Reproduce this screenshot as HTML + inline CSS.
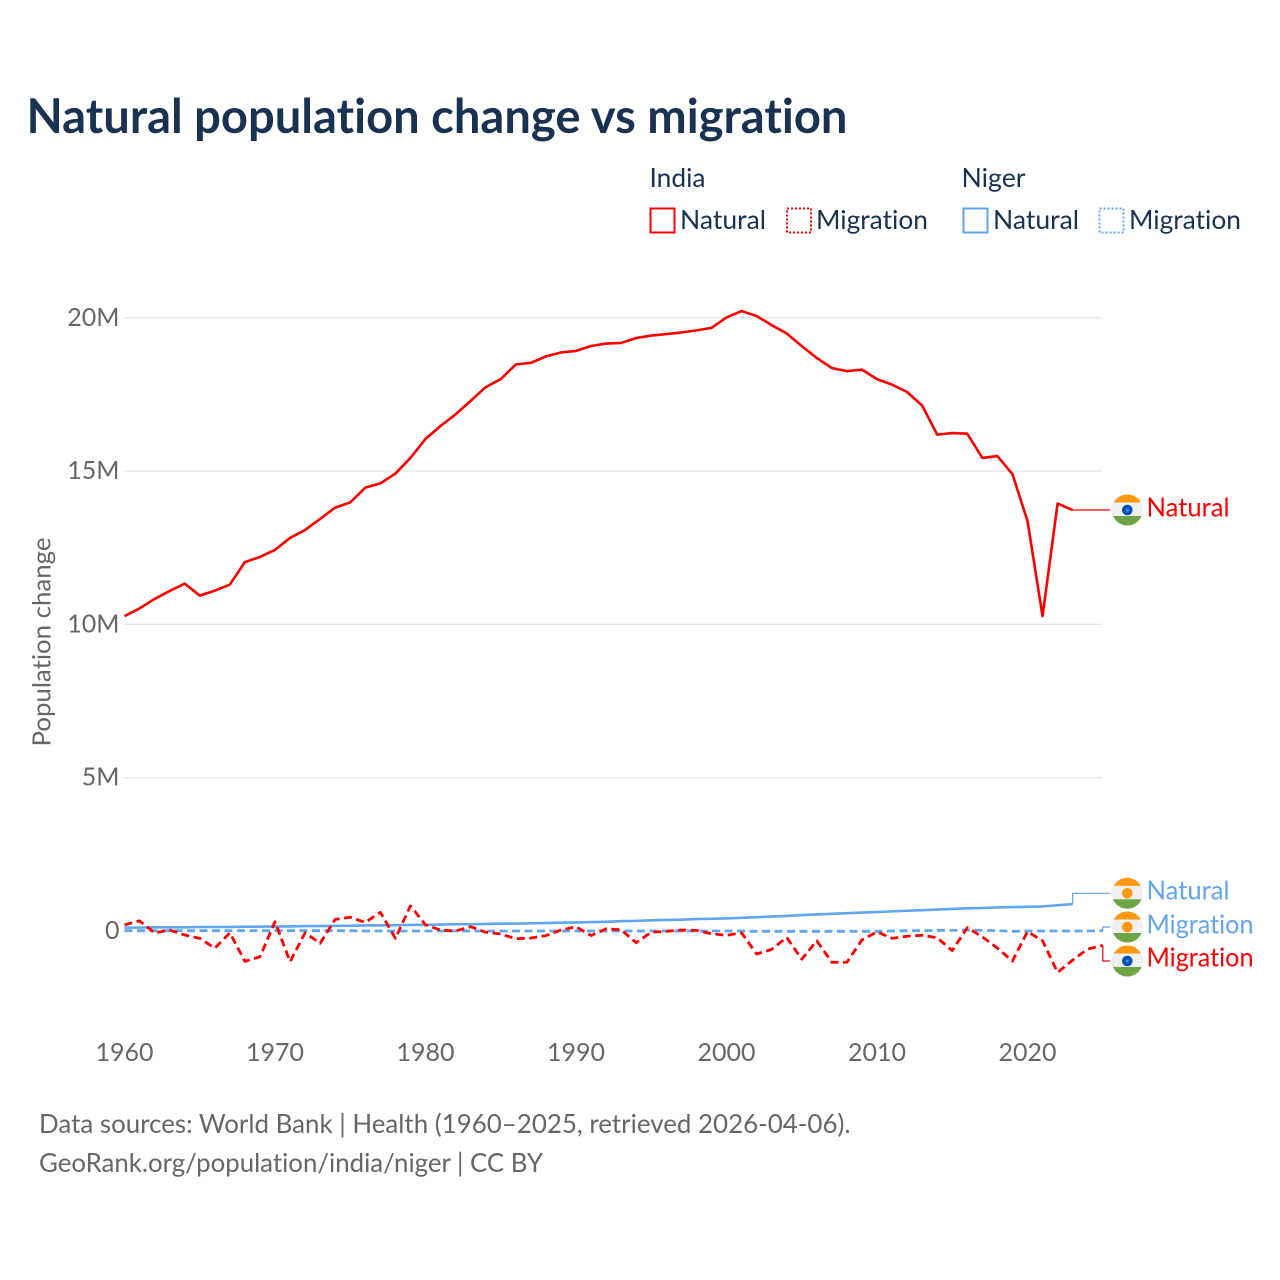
<!DOCTYPE html>
<html lang="en">
<head>
<meta charset="utf-8">
<title>Natural population change vs migration</title>
<style>
html,body{margin:0;padding:0;background:#fff;width:1280px;height:1280px;overflow:hidden}
svg{display:block}
text{font-family:"Lato","Carlito","Liberation Sans",sans-serif;font-variant-ligatures:none;font-feature-settings:"liga" 0,"clig" 0}
</style>
</head>
<body>
<svg id="chart" xmlns="http://www.w3.org/2000/svg" width="1280" height="1280" viewBox="0 0 1280 1280">
  <defs>
    <clipPath id="flag-clip"><circle cx="0" cy="0" r="15.5"/></clipPath>
  </defs>
  <rect x="0" y="0" width="1280" height="1280" fill="#ffffff"/>
  <text x="26.5" y="133" font-size="48" font-weight="700" fill="#1a3252" textLength="821" lengthAdjust="spacingAndGlyphs">Natural population change vs migration</text>

  <g font-size="26.5" fill="#1a3252">
    <text x="649.5" y="187" textLength="56" lengthAdjust="spacingAndGlyphs">India</text>
    <text x="961.5" y="187" textLength="64" lengthAdjust="spacingAndGlyphs">Niger</text>
    <rect x="650.5" y="208.5" width="24" height="24" fill="none" stroke="#ff0000" stroke-width="2"/>
    <text x="680" y="229" textLength="86" lengthAdjust="spacingAndGlyphs">Natural</text>
    <rect x="787" y="208.5" width="24" height="24" fill="none" stroke="#ff0000" stroke-width="2" stroke-dasharray="2 2"/>
    <text x="816" y="229" textLength="112" lengthAdjust="spacingAndGlyphs">Migration</text>
    <rect x="963.5" y="208.5" width="24" height="24" fill="none" stroke="#60a5ee" stroke-width="2"/>
    <text x="993" y="229" textLength="86" lengthAdjust="spacingAndGlyphs">Natural</text>
    <rect x="1099.5" y="208.5" width="24" height="24" fill="none" stroke="#60a5ee" stroke-width="2" stroke-dasharray="2 2"/>
    <text x="1129" y="229" textLength="112" lengthAdjust="spacingAndGlyphs">Migration</text>
  </g>

  <g id="grid"></g>
  <g id="y-ticks"></g>
  <g id="x-ticks"></g>
  <text transform="translate(50.5,746.5) rotate(-90)" x="0" y="0" font-size="25.5" fill="#666666" textLength="209" lengthAdjust="spacingAndGlyphs">Population change</text>

  <g id="series"></g>

  <g transform="translate(1127.3,510)" clip-path="url(#flag-clip)">
    <rect x="-16" y="-16" width="32" height="32" fill="#f0f0f0"/>
    <rect x="-16" y="-16" width="32" height="8.5" fill="#ff9811"/>
    <rect x="-16" y="6" width="32" height="10" fill="#6da544"/>
    <circle r="5.3" fill="#0052b4"/><circle r="1.6" fill="#4f86c8"/>
  </g>
  <g transform="translate(1127.3,893.3)" clip-path="url(#flag-clip)">
    <rect x="-16" y="-16" width="32" height="32" fill="#f0f0f0"/>
    <rect x="-16" y="-16" width="32" height="8.5" fill="#ff9811"/>
    <rect x="-16" y="6" width="32" height="10" fill="#6da544"/>
    <circle r="5.3" fill="#ff9811"/>
  </g>
  <g transform="translate(1127.3,927)" clip-path="url(#flag-clip)">
    <rect x="-16" y="-16" width="32" height="32" fill="#f0f0f0"/>
    <rect x="-16" y="-16" width="32" height="8.5" fill="#ff9811"/>
    <rect x="-16" y="6" width="32" height="10" fill="#6da544"/>
    <circle r="5.3" fill="#ff9811"/>
  </g>
  <g transform="translate(1127.3,961)" clip-path="url(#flag-clip)">
    <rect x="-16" y="-16" width="32" height="32" fill="#f0f0f0"/>
    <rect x="-16" y="-16" width="32" height="8.5" fill="#ff9811"/>
    <rect x="-16" y="6" width="32" height="10" fill="#6da544"/>
    <circle r="5.3" fill="#0052b4"/><circle r="1.6" fill="#4f86c8"/>
  </g>

  <g font-size="26.5">
    <text x="1146.5" y="516.7" fill="#ff0000" textLength="83" lengthAdjust="spacingAndGlyphs">Natural</text>
    <text x="1146.5" y="899.6" fill="#60a5ee" textLength="83" lengthAdjust="spacingAndGlyphs">Natural</text>
    <text x="1146.5" y="933.3" fill="#60a5ee" textLength="107" lengthAdjust="spacingAndGlyphs">Migration</text>
    <text x="1146.5" y="966.6" fill="#ff0000" textLength="107" lengthAdjust="spacingAndGlyphs">Migration</text>
  </g>

  <g font-size="26.5" fill="#666666">
    <text x="39" y="1133" textLength="811.5" lengthAdjust="spacingAndGlyphs">Data sources: World Bank | Health (1960–2025, retrieved 2026-04-06).</text>
    <text x="39" y="1172" textLength="504" lengthAdjust="spacingAndGlyphs">GeoRank.org/population/india/niger | CC BY</text>
  </g>
</svg>
<script>
const years = [1960,1961,1962,1963,1964,1965,1966,1967,1968,1969,1970,1971,1972,1973,1974,1975,1976,1977,1978,1979,1980,1981,1982,1983,1984,1985,1986,1987,1988,1989,1990,1991,1992,1993,1994,1995,1996,1997,1998,1999,2000,2001,2002,2003,2004,2005,2006,2007,2008,2009,2010,2011,2012,2013,2014,2015,2016,2017,2018,2019,2020,2021,2022,2023,2024,2025];
const indiaNatural = [10.27,10.52,10.83,11.09,11.33,10.94,11.10,11.30,12.03,12.20,12.43,12.82,13.08,13.44,13.81,13.98,14.46,14.60,14.92,15.43,16.05,16.47,16.85,17.29,17.74,18.00,18.48,18.53,18.74,18.87,18.92,19.08,19.16,19.18,19.34,19.42,19.47,19.52,19.59,19.67,20.01,20.22,20.06,19.76,19.49,19.08,18.69,18.36,18.26,18.31,18.00,17.82,17.58,17.14,16.19,16.24,16.22,15.43,15.49,14.90,13.37,10.27,13.94,13.73];
const indiaMigration = [0.20,0.33,-0.06,0.03,-0.13,-0.24,-0.56,-0.06,-0.99,-0.84,0.30,-1.00,-0.06,-0.40,0.38,0.45,0.28,0.61,-0.24,0.82,0.20,0.03,0.00,0.14,-0.04,-0.10,-0.25,-0.23,-0.15,0.03,0.14,-0.15,0.07,0.04,-0.38,-0.04,-0.01,0.03,0.02,-0.09,-0.14,-0.06,-0.75,-0.60,-0.21,-0.92,-0.32,-1.02,-1.02,-0.29,-0.03,-0.24,-0.17,-0.14,-0.22,-0.64,0.11,-0.19,-0.56,-0.98,-0.02,-0.32,-1.35,-0.95,-0.59,-0.47];
const nigerNatural = [0.11,0.11,0.12,0.12,0.12,0.13,0.13,0.13,0.14,0.14,0.15,0.15,0.16,0.16,0.17,0.17,0.18,0.18,0.19,0.20,0.20,0.21,0.22,0.22,0.23,0.24,0.24,0.25,0.26,0.27,0.28,0.29,0.30,0.32,0.33,0.35,0.36,0.37,0.39,0.40,0.41,0.43,0.45,0.47,0.49,0.52,0.54,0.56,0.58,0.60,0.62,0.64,0.66,0.68,0.70,0.72,0.74,0.75,0.77,0.78,0.79,0.80,0.84,0.88];
const nigerMigration = [0.01,0.01,0.01,0.01,0.01,0.01,0.01,0.01,0.01,0.01,0.01,0.01,0.01,0.01,0.01,0.01,0.00,0.00,0.00,0.00,0.00,0.00,0.00,0.00,0.00,0.00,0.00,0.00,0.00,0.00,0.00,0.00,0.00,0.00,0.00,0.00,0.00,0.00,0.00,0.00,0.00,0.00,-0.01,-0.01,-0.01,-0.01,-0.01,-0.01,-0.01,-0.01,-0.01,0.00,0.01,0.01,0.02,0.02,0.03,0.02,0.01,-0.01,0.00,0.00,0.00,0.00,0.00,0.01];
const yTickValues = [0,5,10,15,20];
const yTickLabels = ['0','5M','10M','15M','20M'];
const xTickYears = [1960,1970,1980,1990,2000,2010,2020];

const NS = 'http://www.w3.org/2000/svg';
function xScale(year){ return 124.5 + (year - 1960) * 15.05; }
function yScale(v){ return 931 - v * 30.66; }

const gridG = document.getElementById('grid');
const yG = document.getElementById('y-ticks');
const xG = document.getElementById('x-ticks');
const seriesG = document.getElementById('series');

yTickValues.forEach(function(v, i){
  if (v !== 0) {
    const ln = document.createElementNS(NS, 'line');
    
    
    ln.setAttribute('x1', 124);
    ln.setAttribute('x2', 1102);
    ln.setAttribute('y1', yScale(v));
    ln.setAttribute('y2', yScale(v));
    ln.setAttribute('stroke', '#e6e6e6');
    ln.setAttribute('stroke-width', '1.3');
    gridG.appendChild(ln);
  }
  const t = document.createElementNS(NS, 'text');
  
  
  t.setAttribute('x', 119.5);
  t.setAttribute('y', yScale(v) + 8);
  t.setAttribute('text-anchor', 'end');
  t.setAttribute('font-size', '25');
  t.setAttribute('fill', '#666666');
  t.textContent = yTickLabels[i];
  yG.appendChild(t);
});

xTickYears.forEach(function(yr){
  const t = document.createElementNS(NS, 'text');
  
  
  t.setAttribute('x', xScale(yr));
  t.setAttribute('y', 1061);
  t.setAttribute('text-anchor', 'middle');
  t.setAttribute('font-size', '25');
  t.setAttribute('fill', '#666666');
  t.textContent = String(yr);
  xG.appendChild(t);
});

function linePath(values){
  return values.map(function(v, i){
    return (i ? 'L' : 'M') + xScale(years[i]).toFixed(2) + ' ' + yScale(v).toFixed(2);
  }).join(' ');
}
function drawLine(values, color, dash, name){
  const p = document.createElementNS(NS, 'path');
  
  
  p.setAttribute('d', linePath(values));
  p.setAttribute('fill', 'none');
  p.setAttribute('stroke', color);
  p.setAttribute('stroke-width', dash ? '2.8' : '2.6');
  p.setAttribute('stroke-linejoin', 'round');
  if (dash) p.setAttribute('stroke-dasharray', dash);
  seriesG.appendChild(p);
}
function drawConnector(values, labelY, color, name){
  const i = values.length - 1;
  const c = document.createElementNS(NS, 'path');
  
  
  c.setAttribute('d', 'M' + xScale(years[i]).toFixed(2) + ' ' + yScale(values[i]).toFixed(2) + ' V' + labelY + ' H1110');
  c.setAttribute('fill', 'none');
  c.setAttribute('stroke', color);
  c.setAttribute('stroke-width', '1.2');
  seriesG.appendChild(c);
}

drawLine(nigerMigration, '#60a5ee', '8 4.5', 'line-niger-migration');
drawLine(nigerNatural, '#60a5ee', null, 'line-niger-natural');
drawLine(indiaMigration, '#ff0000', '8 4.5', 'line-india-migration');
drawLine(indiaNatural, '#ff0000', null, 'line-india-natural');
drawConnector(indiaNatural, 510, '#ff0000', 'connector-india-natural');
drawConnector(nigerNatural, 893.3, '#60a5ee', 'connector-niger-natural');
drawConnector(nigerMigration, 927, '#60a5ee', 'connector-niger-migration');
drawConnector(indiaMigration, 961, '#ff0000', 'connector-india-migration');
</script>
</body>
</html>
